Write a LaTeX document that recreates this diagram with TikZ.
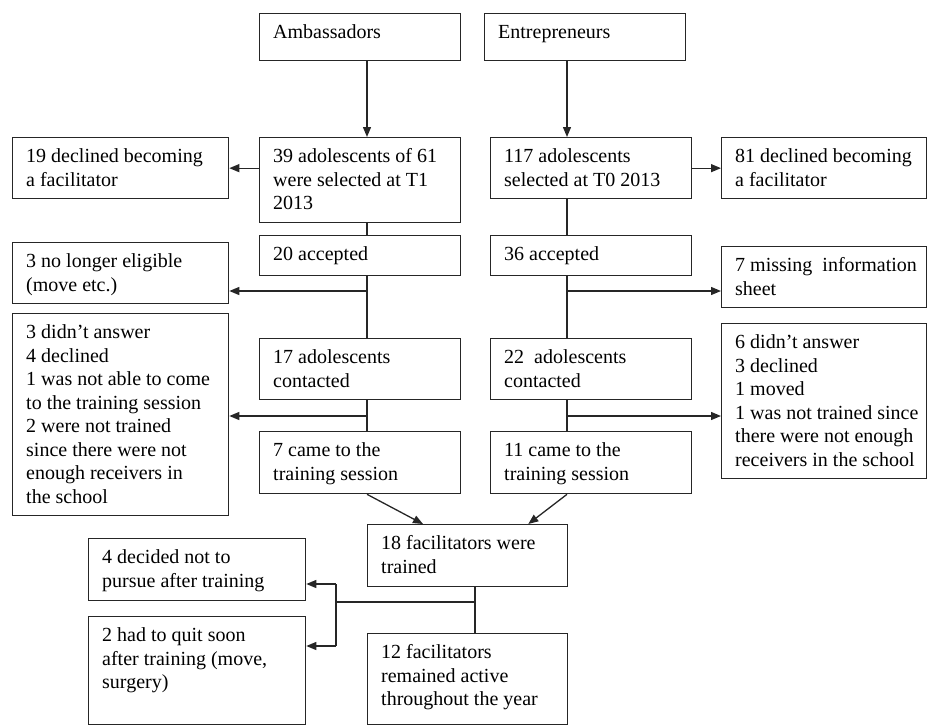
\documentclass[tikz,border=0pt]{standalone}
\usepackage{fontspec}
\setmainfont{Liberation Serif}
\usetikzlibrary{arrows.meta}
\tikzset{
  box/.style={draw=black!85, line width=1.3pt, rectangle, inner sep=0pt, fill=white},
  txt/.style={inner sep=0pt, font=\fontsize{20}{23.5}\selectfont},
  link/.style={draw=black!85, line width=1.3pt},
  arr/.style={link, -{Triangle[length=10pt,width=8pt]}},
}
% name, x, y (top-left), width, height, text
\newcommand\bx[6]{%
  \node[box, anchor=north west, minimum width=#4pt, minimum height=#5pt] (#1) at (#2,#3) {};
  \node[txt, anchor=base west] (#1t) at ([shift={(14pt,-25.5pt)}]#1.north west)
    {\begin{tabular}[t]{@{}l@{}}#6\end{tabular}};
}
\begin{document}
\begin{tikzpicture}[x=1pt,y=-1pt]
\useasboundingbox (0,0) rectangle (927,726);
\bx{amb}{259}{13}{201}{47}{Ambassadors}
\bx{ent}{484}{13}{201}{47}{Entrepreneurs}
\bx{d19}{12}{137}{216}{61}{19 declined becoming\\a facilitator}
\bx{a39}{259}{137}{201}{85}{39 adolescents of 61\\were selected at T1\\2013}
\bx{a117}{490}{137}{201}{61}{117 adolescents\\selected at T0 2013}
\bx{d81}{721}{137}{205}{61}{81 declined becoming\\a facilitator}
\bx{a20}{259}{235}{201}{40}{20 accepted}
\bx{a36}{490}{235}{201}{40}{36 accepted}
\bx{n3}{12}{242}{216}{61}{3 no longer eligible\\(move etc.)}
\bx{m7}{721}{246}{205}{61}{7 missing\ \ information\\sheet}
\bx{d3}{12}{313}{216}{202}{3 didn’t answer\\4 declined\\1 was not able to come\\to the training session\\2 were not trained\\since there were not\\enough receivers in\\the school}
\bx{a17}{259}{338}{201}{61}{17 adolescents\\contacted}
\bx{a22}{490}{338}{201}{61}{22\ \ adolescents\\contacted}
\bx{d6}{721}{323}{205}{155}{6 didn’t answer\\3 declined\\1 moved\\1 was not trained since\\there were not enough\\receivers in the school}
\bx{a7}{259}{431}{201}{62}{7 came to the\\training session}
\bx{a11}{490}{431}{201}{62}{11 came to the\\training session}
\bx{f18}{367}{524}{200}{62}{18 facilitators were\\trained}
\bx{f12}{367}{633}{200}{91}{12 facilitators\\remained active\\throughout the year}
\bx{q4}{88}{538}{217}{62}{4 decided not to\\pursue after training}
\bx{q2}{88}{616}{217}{108}{2 had to quit soon\\after training (move,\\surgery)}

\coordinate (sL) at (367,0);
\coordinate (sR) at (567,0);
\coordinate (sF) at (475,0);
\coordinate (bL1) at (367,291);
\coordinate (bR1) at (567,291);
\coordinate (bL2) at (367,416);
\coordinate (bR2) at (567,416);
\coordinate (bF) at (475,602);
\coordinate (bK) at (336,602);
\coordinate (k1) at (336,584);
\coordinate (k2) at (336,646);

\draw[arr] (amb.south -| sL) -- (a39.north -| sL);
\draw[arr] (ent.south -| sR) -- (a117.north -| sR);
\draw[arr] (a39.west |- d19.east) -- (d19.east);
\draw[arr] (a117.east |- d81.west) -- (d81.west);

\draw[link] (a39.south -| sL) -- (a20.north -| sL);
\draw[link] (a20.south -| sL) -- (a17.north -| sL);
\draw[link] (a17.south -| sL) -- (a7.north -| sL);
\draw[link] (a117.south -| sR) -- (a36.north -| sR);
\draw[link] (a36.south -| sR) -- (a22.north -| sR);
\draw[link] (a22.south -| sR) -- (a11.north -| sR);

\draw[arr] (bL1) -- (bL1 -| n3.east);
\draw[arr] (bL2) -- (bL2 -| d3.east);
\draw[arr] (bR1) -- (bR1 -| m7.west);
\draw[arr] (bR2) -- (bR2 -| d6.west);

\draw[arr] (a7.south -| sL) -- ([xshift=56pt]f18.north west);
\draw[arr] (a11.south -| sR) -- ([xshift=-40pt]f18.north east);

\draw[link] (f18.south -| sF) -- (f12.north -| sF);
\draw[link] (bF) -- (bK);
\draw[link] (k1) -- (k2);
\draw[arr] (k1) -- (k1 -| q4.east);
\draw[arr] (k2) -- (k2 -| q2.east);
\end{tikzpicture}
\end{document}
